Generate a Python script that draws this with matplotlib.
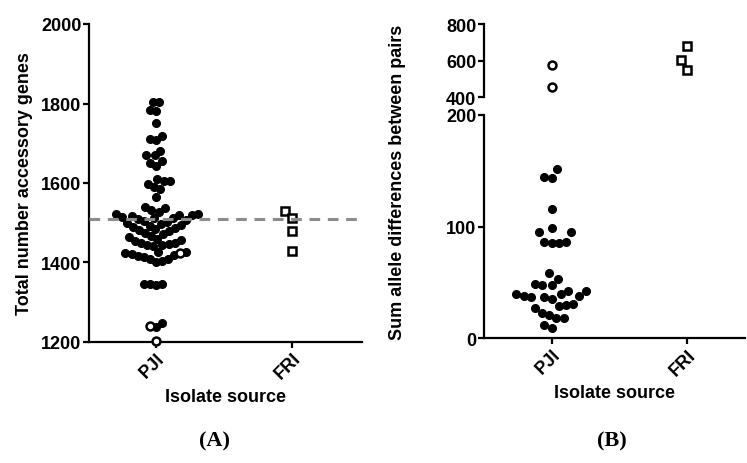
import numpy as np
import matplotlib
matplotlib.use("Agg")
import matplotlib.pyplot as plt

plt.rcParams['font.family'] = ['Liberation Sans', 'DejaVu Sans']

# ---------------- data ----------------
categories = ["PJI", "FRI"]

# Panel A: total number of accessory genes
pji_genes_filled = [1803, 1805, 1781, 1783, 1752, 1711, 1719, 1708, 1681, 1670, 1670,
                    1650, 1644, 1655, 1610, 1605, 1598, 1605, 1589, 1585, 1564,
                    1539, 1536, 1532, 1526, 1521, 1520, 1519, 1522, 1518,
                    1514, 1513, 1511, 1509, 1507, 1505, 1503, 1500, 1497, 1495, 1493,
                    1490, 1488, 1485, 1482, 1478, 1475, 1472,
                    1467, 1464, 1460, 1456, 1453, 1450, 1447, 1444, 1442, 1445, 1449,
                    1427, 1425, 1422, 1418, 1414, 1410, 1405, 1401, 1408, 1416, 1426,
                    1346, 1344, 1345, 1347, 1248, 1237]
pji_genes_open = [1424, 1240, 1202]
fri_genes = [1529, 1511, 1478, 1428]
genes_reference_line = 1510

# Panel B: sum of allele differences between pairs
pji_allele_filled = [152, 143.5, 144.4, 115.6, 98.5, 95, 95, 86.5, 85.6, 85.6, 86.5,
                     58.8, 52.8, 49, 48, 48, 42, 40, 38, 37, 37, 38, 40, 42,
                     35, 30, 27, 23, 29, 31, 21, 18, 18, 9, 12]
pji_allele_open = [576, 454]
fri_allele = [678, 603, 549]

# ---------------- helpers ----------------
def beeswarm(ax, x0, vals, dx_min, dy_min):
    """Greedy swarm in pixel space with an elliptical collision zone,
    alternating sides on ties."""
    vals = np.asarray(vals, dtype=float)
    pts = ax.transData.transform(np.column_stack([np.full(len(vals), x0), vals]))
    ys = pts[:, 1]
    xc = pts[0, 0]
    order = np.argsort(ys, kind="stable")
    placed = []
    xs = np.zeros(len(vals))
    last = [1.0]

    def collide(c, y):
        for px, py in placed:
            if ((c - px) / dx_min) ** 2 + ((y - py) / dy_min) ** 2 < 1 - 1e-6:
                return True
        return False

    for i in order:
        y = ys[i]
        cands = [0.0]
        for px, py in placed:
            dy = y - py
            if abs(dy) < dy_min:
                dx = dx_min * np.sqrt(1 - (dy / dy_min) ** 2)
                cands += [px + dx, px - dx]
        cands = sorted(cands, key=lambda c: (round(abs(c), 1), 0 if np.sign(c) != last[0] else 1))
        c = cands[0]
        for c in cands:
            if not collide(c, y):
                break
        if c != 0:
            last[0] = np.sign(c)
        placed.append((c, y))
        xs[i] = c
    inv = ax.transData.inverted()
    data = inv.transform(np.column_stack([xc + xs, ys]))
    return data[:, 0]


FS = 13

def style_axes(ax, bottom=True):
    for s in ["top", "right"]:
        ax.spines[s].set_visible(False)
    ax.spines["left"].set_linewidth(1.6)
    ax.spines["bottom"].set_linewidth(1.6)
    if not bottom:
        ax.spines["bottom"].set_visible(False)
    ax.tick_params(axis="both", width=1.6, length=4, labelsize=FS, pad=1.5)
    for lab in ax.get_yticklabels():
        lab.set_fontweight("bold")


W, H = 747, 464
fig = plt.figure(figsize=(W / 100, H / 100), dpi=100)

def rect(x0, x1, ytop, ybot):
    return [x0 / W, 1 - ybot / H, (x1 - x0) / W, (ybot - ytop) / H]

DX, DY = 6.2, 10.5
MS = 5.7
FILLED = dict(marker="o", ms=MS, mfc="black", mec="black", mew=0.8, ls="none", clip_on=False, zorder=3)
OPEN = dict(marker="o", ms=MS, mfc="white", mec="black", mew=1.8, ls="none", clip_on=False, zorder=4)
SQUARE = dict(marker="s", ms=6.2, mfc="white", mec="black", mew=1.8, ls="none", clip_on=False, zorder=4)

# ---------------- Panel A ----------------
axA = fig.add_axes(rect(89, 362, 25, 343))
axA.set_xlim(-0.49, 1.51)
axA.set_ylim(1200, 2000)
axA.set_yticks([1200, 1400, 1600, 1800, 2000])
axA.set_xticks([0, 1])
axA.set_xticklabels(categories, rotation=45, ha="right", rotation_mode="anchor",
                    fontweight="bold", fontsize=FS)
style_axes(axA)
axA.set_ylabel("Total number accessory genes", fontsize=FS, fontweight="bold", labelpad=6)
axA.set_xlabel("Isolate source", fontsize=FS, fontweight="bold", labelpad=4)

pji_all = pji_genes_filled + pji_genes_open
nf = len(pji_genes_filled)
xsA = beeswarm(axA, 0, pji_all, DX, DY)
axA.plot(xsA[:nf], pji_all[:nf], **FILLED)
axA.plot(xsA[nf:], pji_all[nf:], **OPEN)
xsF = beeswarm(axA, 1, fri_genes, 9.0, 13.0)
axA.plot(xsF, fri_genes, **SQUARE)
axA.axhline(genes_reference_line, color="#8c8c8c", lw=2.2, ls=(0, (3.5, 2.5)), zorder=5)

# ---------------- Panel B ----------------
axBl = fig.add_axes(rect(484, 745, 116, 339.3))
axBu = fig.add_axes(rect(484, 745, 25, 98.3))
for ax in (axBl, axBu):
    ax.set_xlim(-0.50, 1.43)
axBl.set_ylim(0, 200)
axBl.set_yticks([0, 100, 200])
axBu.set_ylim(400, 800)
axBu.set_yticks([400, 600, 800])
axBl.set_xticks([0, 1])
axBl.set_xticklabels(categories, rotation=45, ha="right", rotation_mode="anchor",
                     fontweight="bold", fontsize=FS)
axBu.set_xticks([])
style_axes(axBl)
style_axes(axBu, bottom=False)
axBl.set_xlabel("Isolate source", fontsize=FS, fontweight="bold", labelpad=4)
fig.text(398 / W, 1 - 182 / H, "Sum allele differences between pairs", rotation=90,
         ha="center", va="center", fontsize=FS, fontweight="bold")

xsB = beeswarm(axBl, 0, pji_allele_filled, 7.4, 13.0)
axBl.plot(xsB, pji_allele_filled, **FILLED)
xsBo = beeswarm(axBu, 0, pji_allele_open, 7.4, 13.0)
axBu.plot(xsBo, pji_allele_open, **OPEN)
xsBf = beeswarm(axBu, 1, fri_allele, 9.0, 13.0)
axBu.plot(xsBf, fri_allele, **SQUARE)

# ---------------- panel captions ----------------
fig.text(214 / W, 1 - 441 / H, "(A)", ha="center", va="center", fontsize=16,
         fontweight="bold", family=["Liberation Serif", "DejaVu Serif"])
fig.text(612 / W, 1 - 441 / H, "(B)", ha="center", va="center", fontsize=16,
         fontweight="bold", family=["Liberation Serif", "DejaVu Serif"])

fig.savefig("out.png", dpi=100)
